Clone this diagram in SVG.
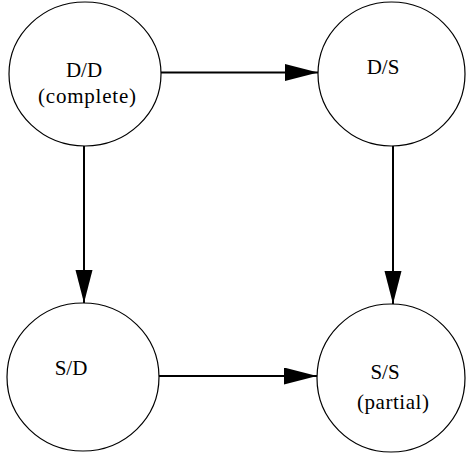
<svg xmlns="http://www.w3.org/2000/svg" width="466" height="454" viewBox="0 0 466 454">
<style>
.node ellipse{fill:#fff;stroke:#000;stroke-width:1.2}
.node text{font-family:'Liberation Serif','Times New Roman','DejaVu Serif',serif;font-size:21px;fill:#000;text-anchor:middle}
.edges line{stroke:#000;stroke-width:2}
</style>
<defs>
<marker id="ah" markerUnits="userSpaceOnUse" markerWidth="34" markerHeight="18" refX="33" refY="8.5" orient="auto">
<path d="M0,0 L33,8.5 L0,17 z" fill="#000"/>
</marker>
</defs>
<rect width="466" height="454" fill="#fff"/>
<g class="edges">
<line x1="161" y1="72.5" x2="318" y2="72.5" marker-end="url(#ah)"/>
<line x1="84" y1="146" x2="84" y2="303" marker-end="url(#ah)"/>
<line x1="393" y1="146" x2="393" y2="304" marker-end="url(#ah)"/>
<line x1="159" y1="376" x2="317" y2="376" marker-end="url(#ah)"/>
</g>
<g id="dd" class="node">
<ellipse cx="85" cy="74" rx="76" ry="72"/>
<text x="84" y="77">D/D</text>
<text x="87" y="103" textLength="98">(complete)</text>
</g>
<g id="ds" class="node">
<ellipse cx="391.5" cy="74" rx="73.5" ry="72"/>
<text x="383" y="74">D/S</text>
</g>
<g id="sd" class="node">
<ellipse cx="83" cy="377" rx="76" ry="74"/>
<text x="71" y="375">S/D</text>
</g>
<g id="ss" class="node">
<ellipse cx="391" cy="378" rx="74" ry="74"/>
<text x="385" y="379">S/S</text>
<text x="393" y="409" textLength="72">(partial)</text>
</g>
</svg>
